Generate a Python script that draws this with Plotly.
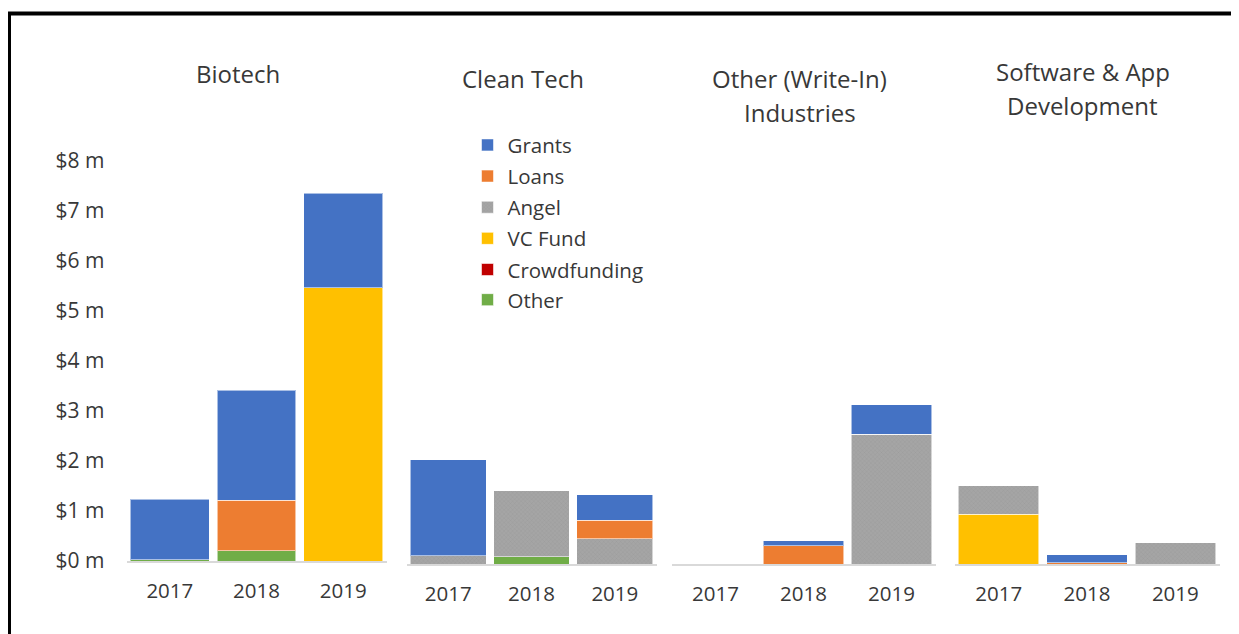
import plotly.graph_objects as go

# Measured mapping from figure pixels to the photographed picture
# (picture = S * figure + B); used to place items at reference positions.
SX, BX = 1.0, 8.5
SY, BY = 0.969, 13.5
FW, FH = 1231, 641


def fx(rx):
    return ((rx - BX) / SX) / FW


def fy(ry):
    return 1 - ((ry - BY) / SY) / FH


# ---------------- data ----------------
panels = ["Biotech", "Clean Tech", "Other (Write-In) Industries", "Software & App Development"]
title_lines = [["Biotech"], ["Clean Tech"], ["Other (Write-In)", "Industries"], ["Software & App", "Development"]]
years = ["2017", "2018", "2019"]

# values in $ millions, per panel, per year
grants       = [[1.20, 2.20, 1.88], [1.91, 0.00, 0.51], [0.00, 0.10, 0.59], [0.00, 0.16, 0.00]]
loans        = [[0.00, 1.00, 0.00], [0.00, 0.00, 0.36], [0.00, 0.37, 0.00], [0.00, 0.03, 0.00]]
angel        = [[0.00, 0.00, 0.00], [0.17, 1.31, 0.51], [0.00, 0.00, 2.59], [0.57, 0.00, 0.43]]
vc_fund      = [[0.00, 0.00, 5.46], [0.00, 0.00, 0.00], [0.00, 0.00, 0.00], [0.99, 0.00, 0.00]]
crowdfunding = [[0.00, 0.00, 0.00], [0.00, 0.00, 0.00], [0.00, 0.00, 0.00], [0.00, 0.00, 0.00]]
other        = [[0.03, 0.21, 0.00], [0.00, 0.15, 0.00], [0.00, 0.00, 0.00], [0.00, 0.00, 0.00]]

y_tickvals = [0, 1, 2, 3, 4, 5, 6, 7, 8]
y_ticktext = ["$0 m", "$1 m", "$2 m", "$3 m", "$4 m", "$5 m", "$6 m", "$7 m", "$8 m"]

# stacking order bottom -> top
series = [
    ("Other", other, "#70AD47", None),
    ("Crowdfunding", crowdfunding, "#C00000", None),
    ("VC Fund", vc_fund, "#FFC000", None),
    ("Angel", angel, "#A5A5A5", "x"),
    ("Loans", loans, "#ED7D31", None),
    ("Grants", grants, "#4472C4", None),
]
legend_order = ["Grants", "Loans", "Angel", "VC Fund", "Crowdfunding", "Other"]

# ---------------- layout geometry (reference pixels) ----------------
panel_x = [(127, 387), (407, 657), (672, 936), (955, 1220)]
panel_base = [560, 563, 563, 563]
px_per_m = 49.85
y_max = 8.2
title_pos = [[(238, 75)], [(523, 80)], [(800, 80), (800, 114)], [(1083, 73), (1083, 107)]]
legend_left = 468
legend_rows = [146, 177, 208, 239, 270, 300]

FONT = "Open Sans"
TXT = "#383838"


def legend_key(name):
    i = legend_order.index(name)
    return "legend" if i == 0 else "legend" + str(i + 1)


fig = go.Figure()
for p in range(len(panels)):
    sfx = "" if p == 0 else str(p + 1)
    for name, vals, color, pat in series:
        marker = dict(color=color, line=dict(color="rgba(255,255,255,0.55)", width=1))
        if pat:
            marker["pattern"] = dict(shape=pat, size=3, solidity=0.25, fgcolor="#8f8f8f",
                                     fillmode="overlay")
        fig.add_trace(go.Bar(
            x=years, y=vals[p], name=name, marker=marker,
            xaxis="x" + sfx, yaxis="y" + sfx,
            legend=legend_key(name), legendgroup=name, showlegend=(p == 0),
            hovertemplate=name + " %{x}: $%{y:.2f} m<extra></extra>",
        ))

layout = dict(
    width=FW, height=FH,
    margin=dict(l=0, r=0, t=0, b=0),
    paper_bgcolor="white", plot_bgcolor="white",
    barmode="stack", bargap=0.09,
    font=dict(family=FONT, size=20.5, color=TXT),
)

for i, name in enumerate(legend_order):
    layout[legend_key(name)] = dict(
        x=fx(legend_left), y=fy(legend_rows[i]), xanchor="left", yanchor="middle",
        bgcolor="rgba(0,0,0,0)", borderwidth=0, font=dict(size=20.5, color=TXT),
        itemclick=False, itemdoubleclick=False,
    )

for p in range(len(panels)):
    sfx = "" if p == 0 else str(p + 1)
    x0, x1 = panel_x[p]
    base = panel_base[p]
    top = base - y_max * px_per_m
    layout["xaxis" + sfx] = dict(
        domain=[fx(x0), fx(x1)], anchor="y" + sfx,
        type="category", showline=True, linecolor="#d9d9d9", linewidth=2,
        showgrid=False, zeroline=False, ticks="", ticklabelstandoff=10,
        tickfont=dict(size=20.5, color=TXT), fixedrange=True,
    )
    ya = dict(
        domain=[fy(base), fy(top)], anchor="x" + sfx,
        range=[0, y_max], showgrid=False, zeroline=False, showline=False,
        fixedrange=True,
    )
    if p == 0:
        ya.update(tickvals=y_tickvals, ticktext=y_ticktext, ticks="",
                  ticklabelstandoff=21, tickfont=dict(size=21, color=TXT))
    else:
        ya.update(showticklabels=False, ticks="")
    layout["yaxis" + sfx] = ya

annotations = []
for p in range(len(panels)):
    for line, (cx, cy) in zip(title_lines[p], title_pos[p]):
        annotations.append(dict(
            text=line, x=fx(cx), y=fy(cy), xref="paper", yref="paper",
            xanchor="center", yanchor="middle", showarrow=False,
            font=dict(family=FONT, size=24, color=TXT),
        ))
layout["annotations"] = annotations

layout["shapes"] = [
    dict(type="line", xref="paper", yref="paper", x0=1 / FW, x1=1 / FW, y0=0, y1=1,
         line=dict(color="black", width=4)),
    dict(type="line", xref="paper", yref="paper", x0=0, x1=1, y0=1 - 1.5 / FH, y1=1 - 1.5 / FH,
         line=dict(color="black", width=4)),
]

fig.update_layout(**layout)
fig.write_html("out.html")
